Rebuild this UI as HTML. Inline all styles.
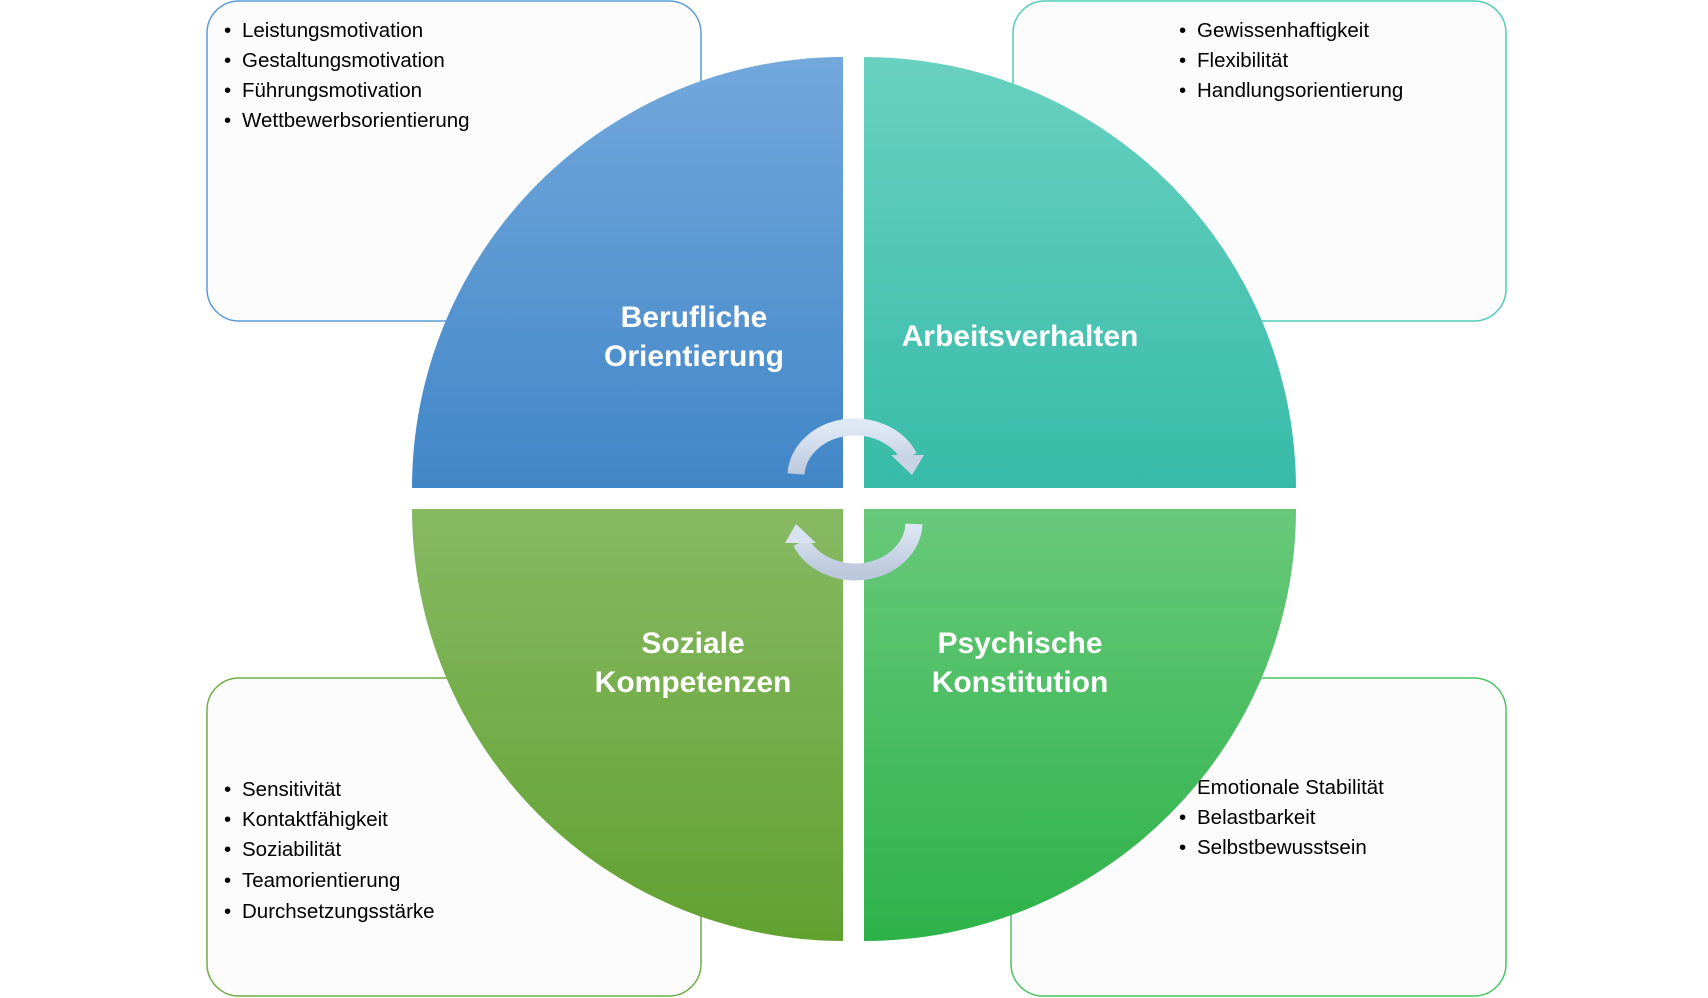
<!DOCTYPE html>
<html><head><meta charset="utf-8"><style>
html,body{margin:0;padding:0;background:#fff;}
svg{display:block;}
text{font-family:"Liberation Sans",sans-serif;}
.li{font-size:20.5px;fill:#000;}
.h{font-size:30px;font-weight:bold;fill:#fff;text-anchor:middle;}
</style></head><body>
<svg width="1708" height="998" viewBox="0 0 1708 998" xmlns="http://www.w3.org/2000/svg">
<defs>
<linearGradient id="gb" x1="0" y1="0" x2="0" y2="1"><stop offset="0" stop-color="#72a8dc"/><stop offset="1" stop-color="#4186c8"/></linearGradient>
<linearGradient id="gt" x1="0" y1="0" x2="0" y2="1"><stop offset="0" stop-color="#69d1c1"/><stop offset="1" stop-color="#37bba8"/></linearGradient>
<linearGradient id="gl" x1="0" y1="0" x2="0" y2="1"><stop offset="0" stop-color="#87b963"/><stop offset="1" stop-color="#61a130"/></linearGradient>
<linearGradient id="gr" x1="0" y1="0" x2="0" y2="1"><stop offset="0" stop-color="#68c97a"/><stop offset="1" stop-color="#2db249"/></linearGradient>
<linearGradient id="ga" x1="0" y1="0" x2="0" y2="1"><stop offset="0" stop-color="#dfe8f5"/><stop offset="1" stop-color="#bcc8dc"/></linearGradient>
</defs>
<rect x="207" y="1" width="494" height="320" rx="32" fill="#fcfcfc" stroke="#5b9bd5" stroke-width="1.5"/>
<rect x="1013" y="1" width="493" height="320" rx="32" fill="#fcfcfc" stroke="#4fcdb8" stroke-width="1.5"/>
<rect x="207" y="678" width="494" height="318" rx="32" fill="#fcfcfc" stroke="#70ad47" stroke-width="1.5"/>
<rect x="1011" y="678" width="495" height="318" rx="32" fill="#fcfcfc" stroke="#4cc464" stroke-width="1.5"/>

<g class="li">
<text x="224" y="37">•</text><text x="242" y="37">Leistungsmotivation</text>
<text x="224" y="67">•</text><text x="242" y="67">Gestaltungsmotivation</text>
<text x="224" y="97">•</text><text x="242" y="97">Führungsmotivation</text>
<text x="224" y="127">•</text><text x="242" y="127">Wettbewerbsorientierung</text>
<text x="1179" y="37">•</text><text x="1197" y="37">Gewissenhaftigkeit</text>
<text x="1179" y="67">•</text><text x="1197" y="67">Flexibilität</text>
<text x="1179" y="97">•</text><text x="1197" y="97">Handlungsorientierung</text>
<text x="224" y="796">•</text><text x="242" y="796">Sensitivität</text>
<text x="224" y="826">•</text><text x="242" y="826">Kontaktfähigkeit</text>
<text x="224" y="856">•</text><text x="242" y="856">Soziabilität</text>
<text x="224" y="887">•</text><text x="242" y="887">Teamorientierung</text>
<text x="224" y="918">•</text><text x="242" y="918">Durchsetzungsstärke</text>
<text x="1179" y="794">•</text><text x="1197" y="794">Emotionale Stabilität</text>
<text x="1179" y="824">•</text><text x="1197" y="824">Belastbarkeit</text>
<text x="1179" y="854">•</text><text x="1197" y="854">Selbstbewusstsein</text>
</g>

<path d="M843,488 L412,488 A431,431 0 0 1 843,57 Z" fill="url(#gb)"/>
<path d="M864,488 L864,57 A432,432 0 0 1 1296,488 Z" fill="url(#gt)"/>
<path d="M843,509 L843,941 A432,432 0 0 1 412,509 Z" fill="url(#gl)"/>
<path d="M864,509 L1296,509 A432,432 0 0 1 864,941 Z" fill="url(#gr)"/>

<text class="h" x="694" y="327">Berufliche</text>
<text class="h" x="694" y="366">Orientierung</text>
<text class="h" x="1020" y="346">Arbeitsverhalten</text>
<text class="h" x="693" y="653">Soziale</text>
<text class="h" x="693" y="692">Kompetenzen</text>
<text class="h" x="1020" y="653">Psychische</text>
<text class="h" x="1020" y="692">Konstitution</text>

<path d="M796,474 A59,50 0 0 1 909,457" fill="none" stroke="url(#ga)" stroke-width="17"/>
<polygon points="891,455 924,455 912,475" fill="#c8d3e5"/>
<path d="M914,524 A59,50 0 0 1 801,542" fill="none" stroke="url(#ga)" stroke-width="17"/>
<polygon points="785,543 816,543 796,524" fill="#d8e2f0"/>
</svg>
</body></html>
